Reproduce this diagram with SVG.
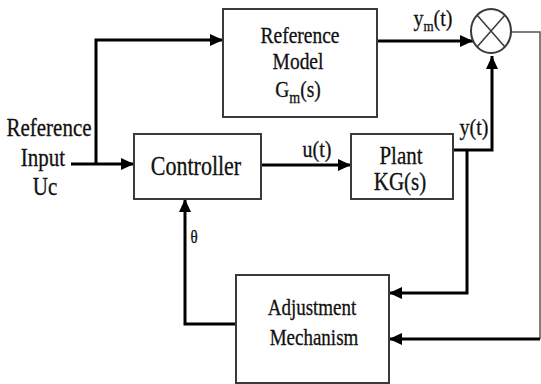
<svg xmlns="http://www.w3.org/2000/svg" width="541" height="384" viewBox="0 0 541 384">
<defs>
<marker id="ah" markerUnits="userSpaceOnUse" markerWidth="14" markerHeight="14" viewBox="0 0 14 14" refX="13" refY="7" orient="auto">
<path d="M0,1 L13,7 L0,13 Z" fill="#000"/>
</marker>
</defs>
<style>
.box{fill:#fff;stroke:#3a3a3a;stroke-width:2}
.c{fill:none;stroke:#000;stroke-width:3}
.t{fill:none;stroke:#555;stroke-width:1.5}
.lbl{font-family:'Liberation Serif','Times New Roman','DejaVu Serif',serif;fill:#111;stroke:#111;stroke-width:0.25;text-anchor:middle}
</style>
<rect width="541" height="384" fill="#fff"/>
<g id="connectors">
<path class="c" d="M71,164 H134" marker-end="url(#ah)"/>
<path class="c" d="M96,164 V40 H223" marker-end="url(#ah)"/>
<path class="c" d="M377,41 H473" marker-end="url(#ah)"/>
<path class="c" d="M261,165 H351" marker-end="url(#ah)"/>
<path class="c" d="M453,150 H492 V56" marker-end="url(#ah)"/>
<path class="c" d="M467,150 V293 H389" marker-end="url(#ah)"/>
<path class="c" d="M236,324 H185 V199" marker-end="url(#ah)"/>
<path class="t" d="M511,32 H540 V339"/>
<path class="c" d="M540,339 H389" marker-end="url(#ah)"/>
</g>
<g id="input-label" class="lbl">
<text transform="translate(49,136) scale(1,1.2)" font-size="21">Reference</text>
<text transform="translate(43,166) scale(1,1.2)" font-size="21">Input</text>
<text transform="translate(45,195) scale(1,1.2)" font-size="21">Uc</text>
</g>
<g id="reference-model">
<rect class="box" x="223" y="9" width="154" height="108"/>
<g class="lbl">
<text transform="translate(300,43) scale(1,1.2)" font-size="19.5">Reference</text>
<text transform="translate(298,69) scale(1,1.2)" font-size="19.5">Model</text>
<text transform="translate(298,97) scale(1,1.2)" font-size="19.5">G<tspan font-size="14" dy="5">m</tspan><tspan dy="-5">(s)</tspan></text>
</g>
</g>
<g id="controller">
<rect class="box" x="134" y="134" width="127" height="65"/>
<text class="lbl" transform="translate(196,175) scale(1,1.2)" font-size="22">Controller</text>
</g>
<g id="plant">
<rect class="box" x="351" y="134" width="102" height="65"/>
<g class="lbl">
<text transform="translate(401,164) scale(1,1.15)" font-size="21">Plant</text>
<text transform="translate(400,190) scale(1,1.15)" font-size="21">KG(s)</text>
</g>
</g>
<g id="sum">
<ellipse cx="491" cy="31" rx="20" ry="22" fill="#fff" stroke="#3a3a3a" stroke-width="2"/>
<path d="M477,15 L505,47 M505,15 L477,47" stroke="#3a3a3a" stroke-width="1.5"/>
</g>
<g id="adjustment">
<rect class="box" x="236" y="275" width="153" height="108"/>
<g class="lbl">
<text transform="translate(312,315) scale(1,1.2)" font-size="19">Adjustment</text>
<text transform="translate(314,345) scale(1,1.2)" font-size="19">Mechanism</text>
</g>
</g>
<g id="labels" class="lbl">
<text transform="translate(317,157) scale(1,1.2)" font-size="20">u(t)</text>
<text transform="translate(474,135) scale(1,1.2)" font-size="20">y(t)</text>
<text transform="translate(433,26) scale(1,1.2)" font-size="20">y<tspan font-size="13" dy="4">m</tspan><tspan dy="-4">(t)</tspan></text>
<text transform="translate(194,243) scale(1,1.2)" font-size="15">θ</text>
</g>
</svg>
